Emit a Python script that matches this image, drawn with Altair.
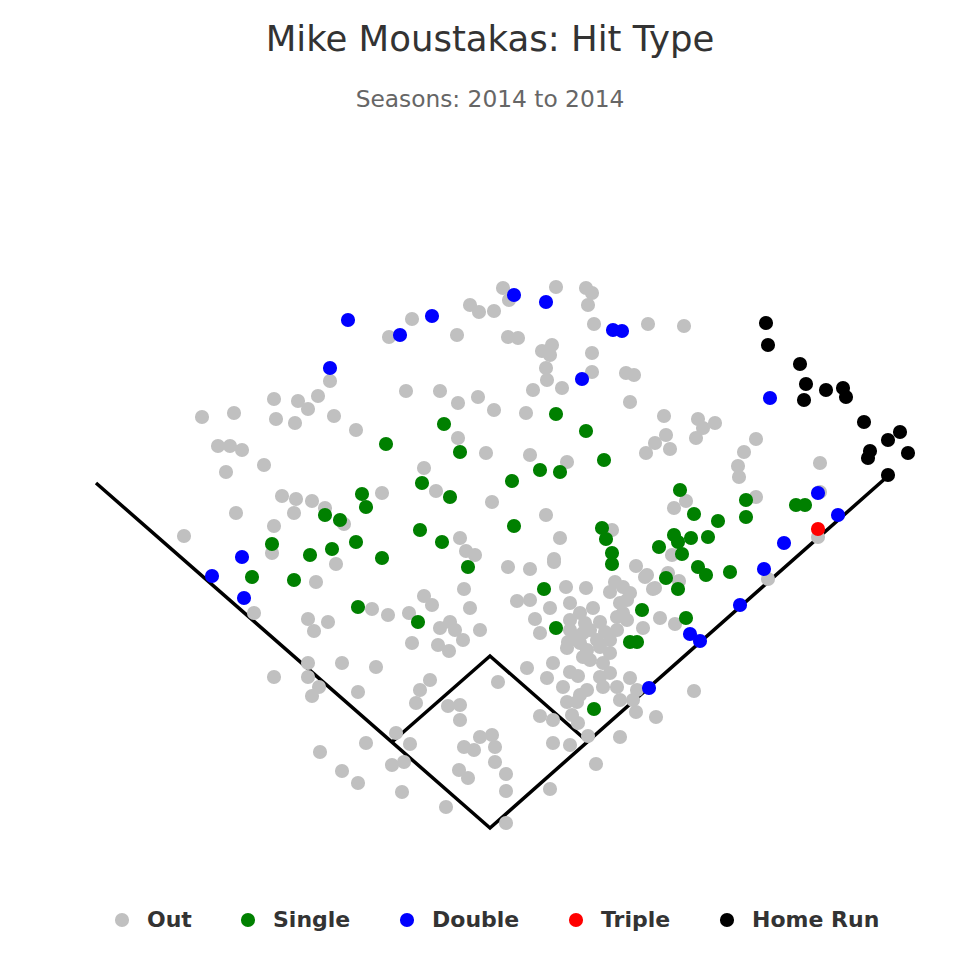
import altair as alt
import pandas as pd

# Spray-chart coordinates (hit location x, y), per hit type
OUT = [
    (412,319),(389,337),(330,381),(406,391),(274,399),(298,401),(318,396),(308,409),(202,417),
    (234,413),(276,419),(295,423),(334,416),(356,430),(218,446),(230,446),(242,450),(264,465),(226,472),
    (503,288),(509,300),(556,287),(586,288),(592,293),(588,305),(470,305),(479,312),(494,311),(457,335),
    (508,337),(518,338),(594,324),(648,324),(552,345),(542,351),(550,355),(592,353),(546,368),(547,380),
    (592,372),(626,373),(634,375),(533,390),(562,388),(440,391),(458,403),(478,397),(494,410),(526,413),
    (630,402),(458,438),(486,453),(530,455),(567,462),(646,453),(424,468),
    (684,326),(664,416),(698,419),(715,423),(703,428),(696,438),(666,435),(655,443),(670,449),(756,439),
    (744,452),(738,466),(739,477),(820,463),
    (282,496),(296,499),(312,501),(294,513),(236,513),(325,508),(344,524),(382,493),(184,536),(274,526),
    (272,553),(336,564),(316,582),(254,613),(372,609),(388,615),(409,613),(308,619),(328,622),(314,631),(412,643),
    (436,491),(492,502),(546,515),(460,538),(466,551),(475,555),(508,567),(530,569),(560,538),(554,559),
    (612,530),(636,566),(645,577),(655,588),(464,589),(470,608),(424,596),(432,605),(440,628),(450,622),
    (455,630),(480,630),(463,640),(438,645),(566,587),(586,588),(517,601),(530,600),(550,608),(535,619),
    (540,633),(570,603),(580,613),(593,608),(600,622),(570,620),(583,633),(568,642),(597,640),(610,592),
    (615,582),(623,587),(630,593),(620,603),(627,600),(617,617),(627,620),(643,628),(610,640),(617,630),
    (686,501),(674,508),(756,497),(820,492),(818,537),(672,555),(768,579),(679,581),(668,573),(660,618),(675,624),
    (554,562),(647,575),(653,589),(623,613),(590,630),(577,637),(567,648),(587,650),(600,647),(610,653),
    (590,660),(603,663),(553,663),(527,668),(570,672),(547,678),(498,682),(610,673),(617,687),(603,687),
    (630,678),(587,690),(563,687),(637,690),(578,676),(580,695),(694,691),
    (583,657),(600,677),(580,643),(570,630),(605,632),(585,623),
    (567,702),(577,702),(620,700),(633,700),(636,712),(656,717),(540,716),(553,720),(572,715),(578,723),
    (588,736),(620,737),(553,743),(570,745),(596,764),(495,747),(495,762),(506,774),(506,791),(550,789),(506,823),
    (449,651),(308,663),(308,677),(319,687),(312,696),(274,677),(342,663),(376,667),(358,692),(430,680),
    (420,690),(416,703),(448,706),(460,705),(460,720),(396,733),(410,744),(366,743),(320,752),(392,765),
    (404,762),(342,771),(358,783),(402,792),(446,807),(480,737),(492,735),(464,747),(474,750),(459,770),(468,778),
]
SINGLE = [
    (386,444),(444,424),(460,452),(556,414),(586,431),(604,460),(540,470),(560,472),(512,481),(422,483),
    (450,497),(514,526),(420,530),(442,542),(468,567),(602,528),(606,539),(612,553),(612,564),(659,547),
    (544,589),(418,622),(556,628),(642,610),(630,642),(637,642),(594,709),
    (325,515),(340,520),(362,494),(366,507),(272,544),(310,555),(332,549),(356,542),(382,558),(252,577),
    (294,580),(358,607),
    (680,490),(694,514),(746,500),(746,517),(718,521),(796,505),(805,505),(674,535),(678,542),(691,538),
    (708,537),(682,554),(698,567),(706,575),(730,572),(666,578),(678,589),(686,618),
]
DOUBLE = [
    (348,320),(400,335),(330,368),(514,295),(546,302),(432,316),(613,330),(622,331),(582,379),(770,398),
    (242,557),(212,576),(244,598),(818,493),(838,515),(784,543),(764,569),(740,605),(690,634),(700,641),(649,688),
]
TRIPLE = [(818,529)]
HOME_RUN = [
    (766,323),(768,345),(800,364),(806,384),(804,400),(826,390),(843,388),(846,397),(864,422),(900,432),
    (888,440),(870,451),(868,458),(908,453),(888,475),
]

HIT_TYPES = ["Out", "Single", "Double", "Triple", "Home Run"]
HIT_COLORS = ["#c0c0c0", "#008000", "#0000ff", "#ff0000", "#000000"]

# Field outline: foul lines and infield diamond
FOUL_LINE = [(96,483), (490,828), (888,476)]
DIAMOND = [(392,742), (490,656), (588,742)]

rows = []
for name, pts in zip(HIT_TYPES, [OUT, SINGLE, DOUBLE, TRIPLE, HOME_RUN]):
    for x, y in pts:
        rows.append({"x": x, "y": y, "type": name})
pts_df = pd.DataFrame(rows)

frows = []
for part, pts in [("foul", FOUL_LINE), ("diamond", DIAMOND)]:
    for i, (x, y) in enumerate(pts):
        frows.append({"x": x, "y": y, "part": part, "idx": i})
field_df = pd.DataFrame(frows)

x_scale = alt.Scale(domain=[40, 940], nice=False, zero=False)
y_scale = alt.Scale(domain=[150, 860], reverse=True, nice=False, zero=False)

lines = alt.Chart(field_df).mark_line(color="black", strokeWidth=3.5).encode(
    x=alt.X("x:Q", scale=x_scale, axis=None),
    y=alt.Y("y:Q", scale=y_scale, axis=None),
    detail="part:N",
    order="idx:Q",
)

points = alt.Chart(pts_df).mark_circle(size=200, opacity=1).encode(
    x=alt.X("x:Q", scale=x_scale, axis=None),
    y=alt.Y("y:Q", scale=y_scale, axis=None),
    color=alt.Color(
        "type:N",
        scale=alt.Scale(domain=HIT_TYPES, range=HIT_COLORS),
        legend=alt.Legend(
            title=None,
            orient="none",
            legendX=71,
            legendY=759,
            direction="horizontal",
            symbolType="circle",
            symbolSize=200,
            symbolOpacity=1,
            symbolStrokeWidth=0,
            labelFont="DejaVu Sans",
            labelFontSize=22,
            labelFontWeight="bold",
            labelColor="#333333",
            labelOffset=14,
            columnPadding=45,
        ),
    ),
)

chart = alt.layer(lines, points).properties(
    width=900,
    height=710,
    autosize="none",
    padding={"left": 32, "top": 142, "right": 32, "bottom": 100},
    title=alt.TitleParams(
        "Mike Moustakas: Hit Type",
        subtitle="Seasons: 2014 to 2014",
        font="DejaVu Sans",
        fontSize=35.5,
        fontWeight="normal",
        color="#333333",
        subtitleFont="DejaVu Sans",
        subtitleFontSize=23.3,
        subtitleColor="#666666",
        subtitlePadding=30,
        anchor="middle",
        offset=39,
    ),
).configure_view(stroke=None)

chart.save("out.html", embed_options={"renderer": "svg", "actions": False})
